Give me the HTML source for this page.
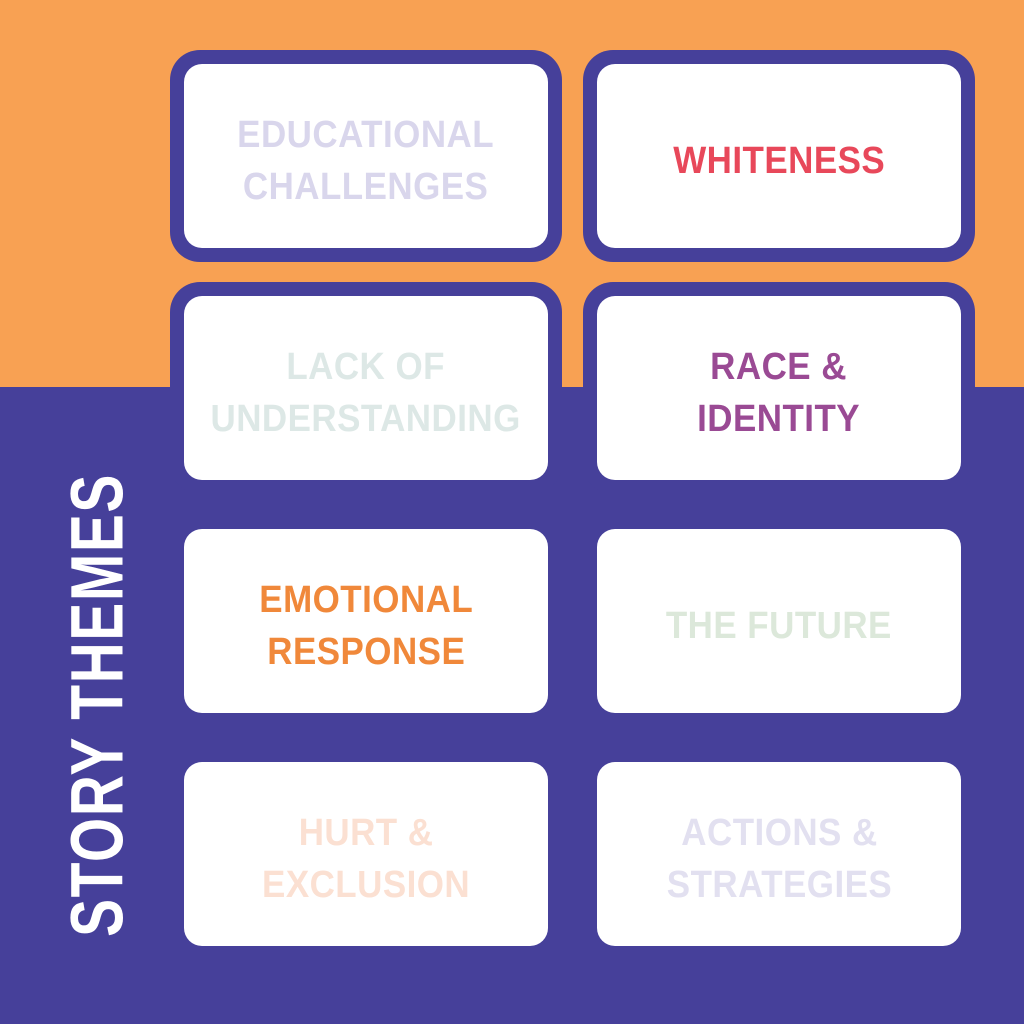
<!DOCTYPE html>
<html><head><style>
body{margin:0;width:1024px;height:1024px;position:relative;overflow:hidden;background:#46409A;font-family:"Liberation Sans",sans-serif}
.top{position:absolute;left:0;top:0;width:1024px;height:387px;background:#F8A153}
.b{position:absolute;background:#46409A;border-radius:30px}
.c{position:absolute;background:#fff;border-radius:18px;width:364px;height:184px;display:flex;align-items:center;justify-content:center;text-align:center}
.t{font-weight:bold;font-size:38px;line-height:52px;transform:translateY(5px) scaleX(0.92);white-space:nowrap;letter-spacing:0.5px}
.v{position:absolute;left:97px;top:705px;transform:translate(-50%,-50%) rotate(-90deg) scaleX(0.77);color:#fff;font-weight:bold;font-size:74px;white-space:nowrap;letter-spacing:2px}
</style></head><body>
<div class="top"></div>
<div class="b" style="left:170px;top:50px;width:392px;height:212px"></div>
<div class="b" style="left:583px;top:50px;width:392px;height:212px"></div>
<div class="b" style="left:170px;top:282px;width:392px;height:212px"></div>
<div class="b" style="left:583px;top:282px;width:392px;height:212px"></div>
<div class="c" style="left:184px;top:64px"><div class="t" style="color:#D9D6EC">EDUCATIONAL<br>CHALLENGES</div></div>
<div class="c" style="left:597px;top:64px"><div class="t" style="color:#E8485A">WHITENESS</div></div>
<div class="c" style="left:184px;top:296px"><div class="t" style="color:#DDE8E6">LACK OF<br>UNDERSTANDING</div></div>
<div class="c" style="left:597px;top:296px"><div class="t" style="color:#9A4A94">RACE &amp;<br>IDENTITY</div></div>
<div class="c" style="left:184px;top:529px"><div class="t" style="color:#F0883A">EMOTIONAL<br>RESPONSE</div></div>
<div class="c" style="left:597px;top:529px"><div class="t" style="color:#DCE8DA">THE FUTURE</div></div>
<div class="c" style="left:184px;top:762px"><div class="t" style="color:#FBE0D2">HURT &amp;<br>EXCLUSION</div></div>
<div class="c" style="left:597px;top:762px"><div class="t" style="color:#E2E0F0">ACTIONS &amp;<br>STRATEGIES</div></div>
<div class="v">STORY THEMES</div>
</body></html>
